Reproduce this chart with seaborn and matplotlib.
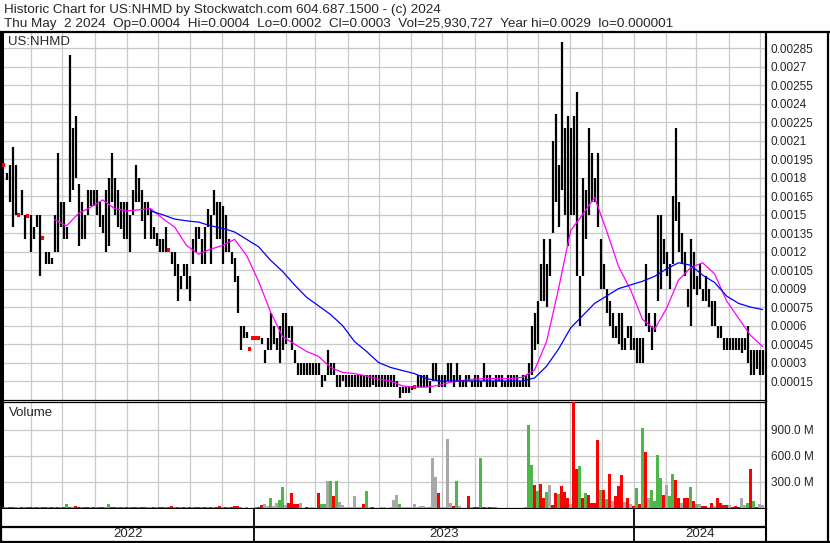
import matplotlib
matplotlib.use("Agg")
import matplotlib.pyplot as plt
import matplotlib.dates as mdates
from matplotlib.lines import Line2D
import numpy as np
import pandas as pd
import seaborn as sns

W, H = 830, 543

# price bars, one bar per two trading days, in units of 0.00001
bar_high = (
    [191, 184, 190, 205, 190, 151, 170, 150, 150, 150]
    + [140, 150, 150, 132, 120, 120, 115, 150, 200, 160]
    + [160, 140, 280, 220, 230, 175, 160, 150, 170, 170]
    + [170, 170, 160, 150, 170, 180, 200, 180, 170, 160]
    + [160, 160, 150, 170, 190, 180, 170, 160, 160, 155]
    + [140, 135, 130, 130, 140, 122, 120, 120, 110, 100]
    + [110, 110, 100, 130, 140, 140, 130, 140, 155, 150]
    + [170, 160, 160, 157, 150, 130, 120, 115, 100, 60]
    + [60, 55, 42, 51, 51, 51, 50, 40, 50, 70]
    + [60, 50, 60, 70, 70, 60, 60, 40, 30, 30]
    + [30, 30, 30, 30, 30, 30, 20, 20, 40, 30]
    + [30, 20, 20, 20, 20, 20, 20, 20, 20, 20]
    + [20, 20, 20, 20, 20, 20, 20, 20, 20, 20]
    + [20, 15, 10, 10, 10, 10, 11, 11, 20, 20]
    + [20, 20, 15, 30, 30, 20, 20, 20, 30, 30]
    + [20, 30, 20, 15, 20, 20, 15, 20, 20, 15]
    + [30, 20, 20, 15, 20, 20, 20, 15, 20, 20]
    + [20, 20, 15, 20, 20, 30, 60, 70, 80, 110]
    + [130, 110, 130, 210, 232, 190, 290, 220, 230, 220]
    + [230, 250, 100, 180, 170, 220, 200, 180, 200, 130]
    + [110, 90, 80, 70, 60, 70, 70, 50, 60, 60]
    + [50, 50, 50, 50, 110, 70, 60, 70, 150, 150]
    + [130, 120, 110, 165, 220, 160, 135, 120, 90, 130]
    + [120, 100, 110, 90, 100, 90, 80, 80, 60, 60]
    + [50, 50, 50, 50, 50, 50, 50, 50, 60, 40]
    + [40, 40, 40, 40]
)
bar_low = (
    [189, 178, 160, 140, 150, 149, 150, 130, 148, 120]
    + [130, 140, 100, 130, 110, 110, 110, 120, 120, 140]
    + [130, 130, 160, 170, 180, 125, 130, 130, 150, 157]
    + [157, 150, 140, 135, 120, 125, 160, 150, 140, 138]
    + [130, 130, 120, 150, 160, 160, 145, 130, 150, 130]
    + [130, 125, 120, 120, 120, 120, 110, 100, 80, 90]
    + [100, 90, 80, 110, 120, 130, 110, 110, 140, 110]
    + [150, 130, 130, 110, 120, 120, 110, 95, 70, 40]
    + [50, 50, 40, 49, 49, 49, 45, 30, 40, 40]
    + [45, 40, 30, 40, 45, 50, 40, 30, 20, 20]
    + [20, 20, 20, 20, 20, 20, 10, 15, 20, 20]
    + [20, 10, 10, 15, 10, 10, 10, 10, 10, 10]
    + [10, 10, 10, 12, 10, 10, 10, 10, 10, 10]
    + [10, 10, 1, 5, 5, 5, 8, 9, 10, 10]
    + [10, 10, 5, 15, 15, 10, 10, 10, 15, 15]
    + [10, 15, 10, 10, 10, 15, 10, 10, 10, 10]
    + [15, 10, 10, 10, 10, 15, 10, 10, 10, 10]
    + [10, 10, 10, 10, 10, 10, 20, 40, 45, 80]
    + [80, 75, 100, 135, 160, 140, 170, 150, 125, 150]
    + [150, 100, 60, 100, 130, 150, 160, 160, 140, 90]
    + [90, 70, 60, 50, 50, 45, 40, 40, 50, 40]
    + [40, 30, 30, 30, 60, 55, 40, 55, 80, 90]
    + [110, 100, 90, 110, 145, 120, 110, 100, 75, 60]
    + [90, 85, 90, 80, 80, 75, 60, 60, 50, 50]
    + [40, 40, 40, 40, 40, 40, 38, 40, 30, 20]
    + [20, 25, 20, 20]
)

# volume per bar, millions of shares, and direction (g up, r down, n unchanged)
volume_m = (
    [12, 10, 15, 8, 12, 10, 8, 14, 10, 15]
    + [10, 12, 8, 15, 10, 12, 8, 10, 12, 15]
    + [12, 40, 15, 10, 18, 12, 10, 8, 15, 12]
    + [10, 12, 15, 10, 8, 40, 12, 10, 15, 12]
    + [12, 15, 10, 15, 12, 10, 8, 12, 15, 10]
    + [12, 10, 15, 12, 10, 8, 18, 12, 15, 10]
    + [12, 10, 15, 12, 10, 15, 12, 10, 8, 12]
    + [12, 10, 18, 15, 12, 10, 12, 22, 28, 12]
    + [5, 6, 4, 5, 8, 6, 30, 50, 20, 120]
    + [20, 55, 90, 240, 30, 60, 170, 40, 40, 60]
    + [5, 8, 6, 10, 5, 170, 40, 40, 310, 310]
    + [140, 310, 70, 30, 15, 15, 10, 140, 8, 8]
    + [45, 200, 10, 8, 5, 5, 8, 10, 5, 8]
    + [90, 150, 40, 10, 10, 10, 15, 45, 10, 20]
    + [20, 15, 10, 580, 360, 170, 10, 10, 790, 55]
    + [20, 310, 20, 5, 5, 140, 15, 15, 15, 570]
    + [15, 8, 8, 8, 8, 5, 5, 5, 5, 5]
    + [5, 5, 5, 5, 10, 950, 495, 270, 200, 280]
    + [110, 185, 270, 30, 175, 165, 255, 185, 120, 45]
    + [1300, 450, 485, 110, 170, 145, 60, 60, 780, 210]
    + [210, 105, 395, 80, 140, 250, 380, 70, 115, 40]
    + [20, 235, 45, 925, 650, 120, 205, 80, 610, 345]
    + [150, 260, 135, 395, 325, 110, 60, 110, 120, 245]
    + [80, 40, 40, 20, 20, 10, 60, 20, 110, 60]
    + [30, 30, 30, 15, 25, 10, 110, 30, 60, 445]
    + [85, 15, 40, 30]
)
volume_dir = (
    "rgrrgnrgrr" "grgrrgrgrg" "rgrgrrgrrg" "rgrrggrrgr" "grgrrgrrgg"
    "rgrrgrrgrg" "rgrgrrgrgr" "grrgrgrrrg" "rgrrgrrnng" "nnggnrrrrn"
    "nrnnnrggng" "rgnnnnnnnn" "rgnrnnnnnn" "nngnnnnnnn" "nngnnrnnnn"
    "rgnrrrnrrg" "rgrggrnrnr" "grgrgggrgr" "rgnrrgrrrn" "rrgrgrrrrg"
    "rgrnrrrnrn" "rgrgrngggg" "rnggrrnrrg" "rgnrrnrnrr" "rrnrrrnngr"
    "grnn"
)

# moving averages read every 4th bar, in units of 0.00001
ma_fast = [146, 141, 151, 156, 162, 155, 153, 154, 155, 147,
           140, 125, 118, 122, 125, 130, 117, 96, 71, 51,
           45, 39, 35, 26, 22, 21, 19, 16.5, 15, 11,
           10, 10, 11.5, 14, 15.5, 16.5, 17, 17, 17, 18,
           24, 47, 90, 137, 150, 164, 137, 108, 89, 65,
           57, 74, 97, 107, 111, 102, 80, 66, 52, 43]
ma_slow = [153, 150, 146.5, 145, 144, 141, 139, 136, 130, 124,
           113, 104, 93, 83, 76, 69, 60, 47, 39, 30,
           26, 23.5, 21, 17, 15, 15, 15, 15, 15, 15,
           15, 15, 17.5, 27, 41, 58, 68, 78, 84, 90,
           93, 96, 100, 106, 111, 109, 101, 95, 84, 78,
           75, 73]
FAST_FIRST, SLOW_FIRST, MA_STEP = 17, 49, 4

price_ticks = [0.00015 * i for i in range(1, 20)]
volume_ticks = [300e6, 600e6, 900e6]

TITLE = "Historic Chart for US:NHMD by Stockwatch.com 604.687.1500 - (c) 2024"
SUBTITLE = ("Thu May  2 2024  Op=0.0004  Hi=0.0004  Lo=0.0002  Cl=0.0003  "
            "Vol=25,930,727  Year hi=0.0029  lo=0.000001")

GRID = "#c8c8c8"
UP, DOWN, FLAT = "#4cb848", "#ff0000", "#a8a8a8"
FONT = ["Liberation Sans", "DejaVu Sans"]
FS_HEAD, FS_LABEL, FS_TICK = 9.7, 9.5, 8.5

sns.set_style("white")
plt.rcParams["font.family"] = FONT

n = len(bar_high)
bar_dates = pd.date_range("2022-05-05 12:00", "2024-05-03 12:00", periods=n)
xs = mdates.date2num(bar_dates.to_pydatetime())
x_lo = mdates.date2num(pd.Timestamp("2022-05-04"))
x_hi = mdates.date2num(pd.Timestamp("2024-05-06 19:00"))

fig = plt.figure(figsize=(W / 100, H / 100), dpi=100)


def box(l, t, r, b):
    return fig.add_axes([l / W, 1 - b / H, (r - l) / W, (b - t) / H])


def fig_line(x0, y0, x1, y1, lw=1.5):
    fig.add_artist(Line2D([x0 / W, x1 / W], [1 - y0 / H, 1 - y1 / H],
                          transform=fig.transFigure, color="black", lw=lw))


ax_p = box(2, 33, 766, 400)
ax_v = box(2, 402, 766, 509)
ax_t = box(2, 509, 766, 541)

for ax in (ax_p, ax_v):
    ax.set_xlim(x_lo, x_hi)
    ax.xaxis.set_major_locator(mdates.MonthLocator())
    ax.grid(True, color=GRID, lw=0.9)
    ax.set_axisbelow(True)
    ax.tick_params(axis="x", length=0, labelbottom=False)
    ax.yaxis.tick_right()
    ax.tick_params(axis="y", length=0, pad=3.5, labelsize=FS_TICK)
    for sp in ax.spines.values():
        sp.set_color("black")
    ax.spines["left"].set_linewidth(2.2)
    ax.spines["right"].set_linewidth(1.5)

# price panel
hi = np.array(bar_high) * 1e-5
lo = np.array(bar_low) * 1e-5
ax_p.vlines(xs, lo, hi, color="black", lw=1.6, zorder=3)
flat = (hi - lo) <= 2.5e-5
ax_p.hlines((hi[flat] + lo[flat]) / 2, xs[flat] - 1.3, xs[flat] + 1.3,
            color="#ff0000", lw=1.5, zorder=3.5, antialiased=False)
fast_idx = np.arange(FAST_FIRST, FAST_FIRST + MA_STEP * len(ma_fast), MA_STEP)
slow_idx = np.arange(SLOW_FIRST, SLOW_FIRST + MA_STEP * len(ma_slow), MA_STEP)
sns.lineplot(x=xs[fast_idx], y=np.array(ma_fast) * 1e-5, ax=ax_p,
             color="#ff00ff", lw=0.9, zorder=4)
sns.lineplot(x=xs[slow_idx], y=np.array(ma_slow) * 1e-5, ax=ax_p,
             color="#0000ff", lw=0.9, zorder=4)
ax_p.set_ylim(-0.0000041, 0.002975)
ax_p.set_yticks(price_ticks)
ax_p.set_yticklabels([f"{v:.5f}".rstrip("0") for v in price_ticks])
ax_p.spines["top"].set_visible(False)
ax_p.spines["bottom"].set_linewidth(0.9)
ax_p.set_xlabel("")
ax_p.set_ylabel("")
ax_p.text(0.008, 0.976, "US:NHMD", transform=ax_p.transAxes,
          ha="left", va="center", fontsize=FS_LABEL)

# volume panel
colors = [{"g": UP, "r": DOWN, "n": FLAT}[c] for c in volume_dir]
ax_v.bar(xs, np.array(volume_m) * 1e6, width=2.4, color=colors, lw=0,
         zorder=3, antialiased=False)
ax_v.set_ylim(-12e6, 1220e6)
ax_v.set_yticks(volume_ticks)
ax_v.set_yticklabels([f"{v / 1e6:.1f} M" for v in volume_ticks])
ax_v.spines["top"].set_linewidth(0.9)
ax_v.spines["bottom"].set_linewidth(1.6)
ax_v.text(0.009, 0.897, "Volume", transform=ax_v.transAxes,
          ha="left", va="center", fontsize=FS_LABEL)

# time axis strip with years
ax_t.set_xlim(x_lo, x_hi)
ax_t.set_ylim(0, 1)
ax_t.set_xticks([])
ax_t.set_yticks([])
for sp in ax_t.spines.values():
    sp.set_visible(False)
ax_t.axhline(0.45, color="black", lw=1.6)
for year in (2022, 2023, 2024):
    start = max(mdates.date2num(pd.Timestamp(f"{year}-01-01")), x_lo)
    end = min(mdates.date2num(pd.Timestamp(f"{year + 1}-01-01")), x_hi)
    ax_t.text((start + end) / 2, 0.21, str(year), ha="center", va="center",
              fontsize=FS_LABEL)
    if year > 2022:
        ax_t.axvline(start, color="black", lw=1.3)

# frame and header
fig_line(0, 32, W, 32, lw=1.6)
fig_line(766, 32, 766, 542, lw=1.5)
fig_line(1, 32, 1, 542, lw=1.6)
fig_line(828, 32, 828, 542, lw=1.6)
fig_line(0, 541.5, W, 541.5, lw=1.6)
fig.text(4 / W, 1 - 12.5 / H, TITLE, ha="left", va="baseline", fontsize=FS_HEAD)
fig.text(4 / W, 1 - 26.5 / H, SUBTITLE, ha="left", va="baseline", fontsize=FS_HEAD)

fig.savefig("out.png", dpi=100)
